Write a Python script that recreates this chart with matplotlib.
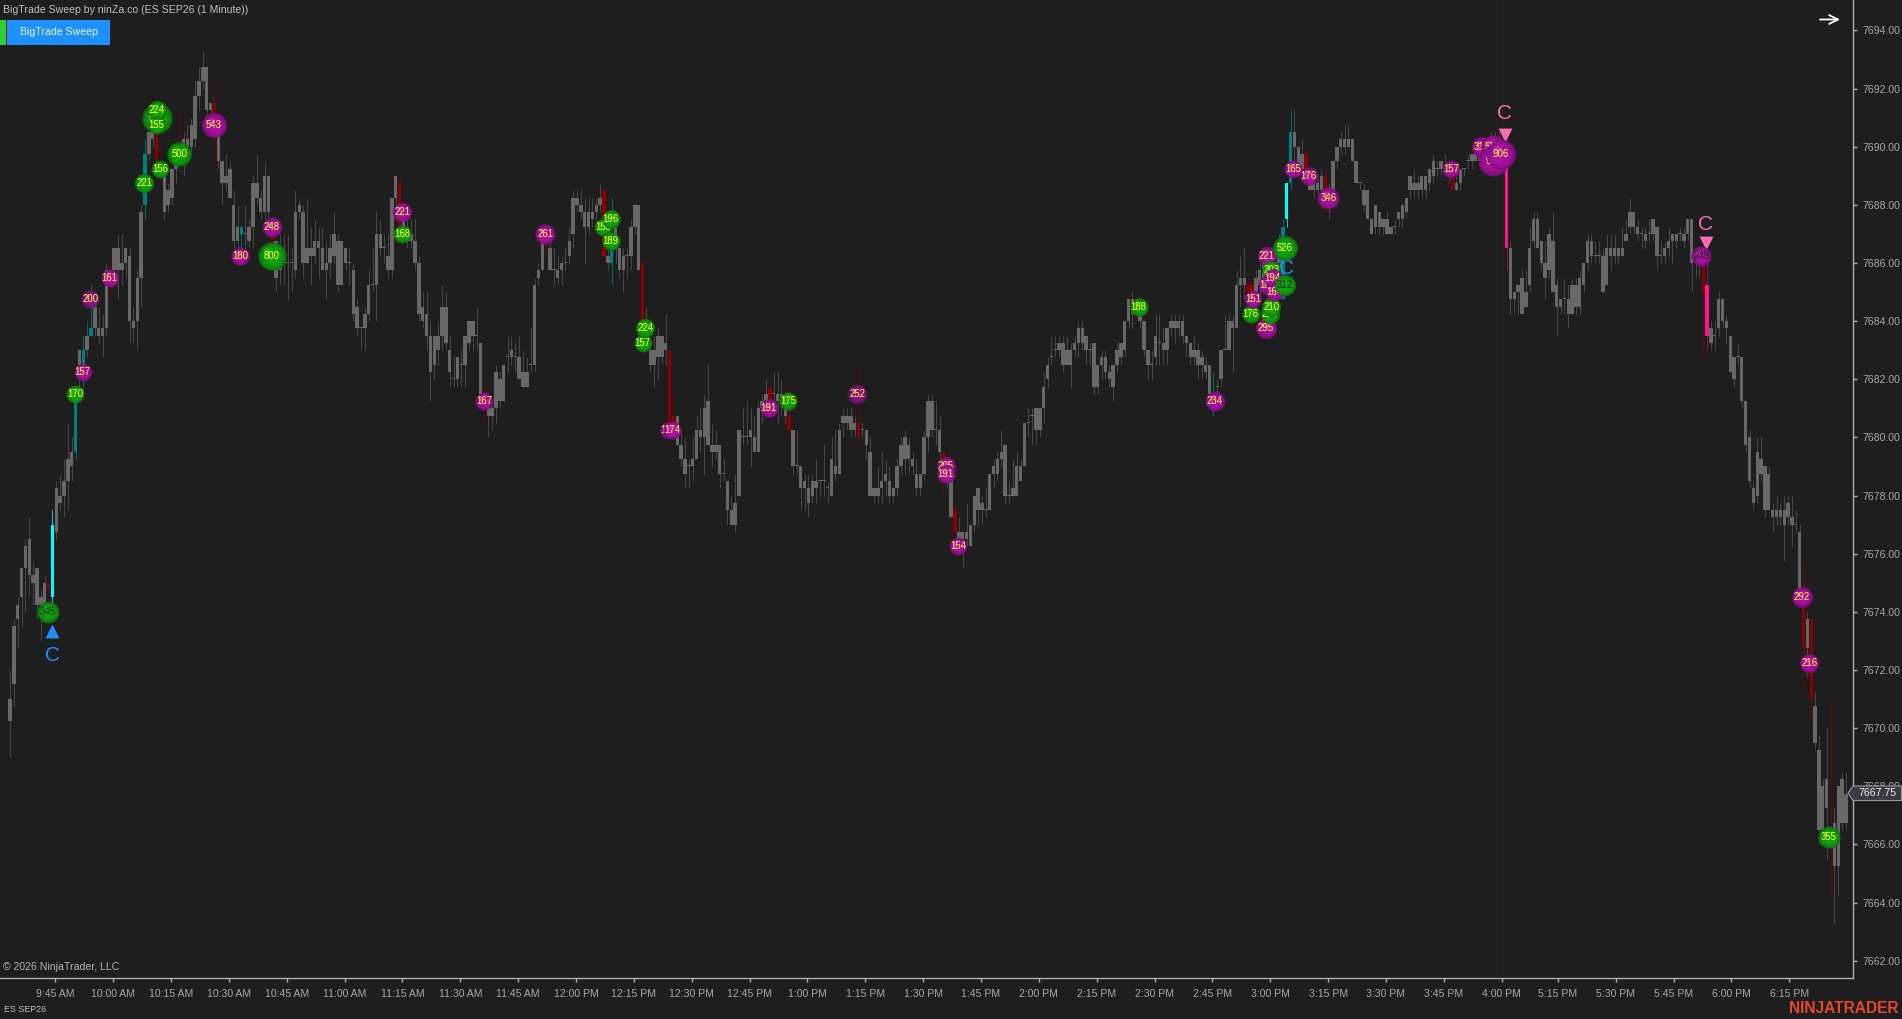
import numpy as np
import matplotlib
matplotlib.use("Agg")
import matplotlib.pyplot as plt
from matplotlib.patches import Polygon, Rectangle

plt.rcParams['font.family'] = ['Liberation Sans', 'DejaVu Sans']

# prices are stored minus this base
base_price = 7600

# candle bodies and wicks, one row per 10 bars
body_top = [
    71,73.5,74.25,75.5,76.25,76.5,75.25,75.5,74.5,75,
    75,77,78.25,78,78.5,79.25,79.5,81.5,83,83,
    83.5,83.75,84.5,83.75,83.75,85.75,85.75,86.5,86.5,86,
    86.5,86.25,84,85.5,87.75,89.75,90.5,90.5,90.5,89.25,
    89.25,88.5,89.25,89.75,90,90.25,90.25,90.75,91.75,92.25,
    92.75,92.75,91.5,91.5,90.5,89.5,89,89.25,88,87.25,
    87.25,87,87.25,88.75,88.75,88.25,89,89,87,86.75,
    86,86,86,86,87.75,88,87.75,86.5,86.5,86.75,
    86.75,86.5,86,86.5,87,86.75,86.75,86.5,86,85.75,
    84.5,83.75,84.25,85.25,85.25,87,87,86.5,86.25,88.25,
    89,88.75,87.5,87.25,87,86.75,86,84.5,84.25,83.5,
    83.5,83.5,84.5,84.5,83,82,82.75,82.5,83.5,84,
    84,83.5,83.25,81.5,81,81,82.25,82,82.5,82.75,
    83,82.75,82.75,82.25,82.25,82.5,85.25,85.75,87,87,
    86.5,85.75,85.75,86,86,86.75,88.25,88.25,88,87.75,
    87.75,87.75,88,88.25,88.5,86.25,87,87.25,86.5,86.25,
    86.25,87.25,88,88,86,84,83,83,83.5,83.5,
    83.25,83,80.75,80.75,79.75,79.25,79,79.25,80.25,80.25,
    81,81.25,79.75,79.75,79.75,78.75,78.5,77.5,77.75,80.25,
    80,80,80.25,80,81,81.25,81.5,81.75,81.5,81.5,
    81.5,81.25,80.75,80.25,79,79,78.5,78.25,78.5,78.5,
    78.5,78.5,78.25,79.25,79,80.25,80.75,80.75,80.75,80.5,
    80.5,80.25,80.25,79.5,78.25,78.25,78.5,78.75,78.5,78.25,
    79,79.75,80,79.75,79.25,78.75,78.75,80,81.25,81.25,
    80.25,80.25,79.5,79,78.75,77.5,76.75,76.75,76.75,77,
    78,78.25,77.75,77.5,78.75,79,79.25,79.5,79.75,78,
    78.25,79,79,80.5,80.5,80.75,81,81,81.75,82.5,
    82.75,83,83.25,83.25,83,83,83.25,83.75,83.75,83.5,
    83,83.25,82.5,82.75,82.75,82.25,82.5,83,83.25,84,
    84.75,84.75,84.75,84.25,84,83,82.5,83.5,83.25,83.25,
    83.75,84,84,84,84,83.5,83.25,83,83,82.75,
    82.5,82.5,81.5,81.75,83,83,84,84,85.25,85.5,
    85.5,85.25,85.25,85.5,85.75,86,86,86.25,86,86.75,
    87.25,88.75,90.5,90.5,90,89.75,89.75,89.25,89,88.75,
    89,89,88.5,89.5,90,90.25,90.25,90.25,90.25,89.5,
    88.75,88.5,88.5,87.5,88,87.75,87.5,87.5,87.25,87.25,
    87.75,88,88.25,89,88.75,88.75,89,89,89.25,89.5,
    89.25,89.5,89.25,89.25,89,88.75,89.25,89.25,89.5,89.75,
    89.75,89.75,90,90,90.25,90.25,90.25,90,90,86.5,
    85,85.25,85.5,85,86.5,87.5,87.5,86.75,86,87,
    86.75,85.25,84.75,84.75,84.75,85.25,85.25,85.5,86,86.75,
    86.75,86.25,86.25,86.25,86.5,86.5,86.5,86.5,86.5,87,
    87.75,87.75,87.25,87,87,87,87.5,87.25,86.25,86.5,
    86.75,87,87,87,87,87.5,87.5,86,86,86,
    85.25,83.75,83.5,84.75,84.75,84,83.5,82.75,82.75,82.75,
    81.25,80,78.25,79.5,79.25,79,78.75,77.5,77.5,77.5,
    77.5,77.75,77.25,77,76.75,74.75,73.75,73.75,70.75,69.25,
    68,68.25,66.25,66.75,68,68.25,67.75,
]
body_bot = [
    70.25,71.5,73.75,74.5,75.5,75.25,75,74.25,74.25,74.25,
    74.75,74.5,76.75,77.75,78,78.5,79,79.5,82.5,82.5,
    83,83.5,83.75,83.5,83.5,83.75,85.25,85.75,85.75,85.75,
    86,84,83.75,84,85.5,88,89.75,90.25,89.5,89,
    87.75,88,88.25,89.25,89.75,89.75,90,90,90.25,91.75,
    92.25,91.25,91.25,91,89.5,88.75,88.75,88.25,86.75,86.75,
    87,87,86.75,87.25,88.25,87.75,87.75,87.75,86.75,85.5,
    85.75,86,86,86,85.75,87.75,86,86,86.25,86.25,
    86.5,85.75,85.75,86,86.25,85.25,85.25,86,86,84.25,
    83.75,83.75,83.75,84.25,85.25,85.25,86.5,86.5,85.75,85.75,
    88.25,87.25,87,86.75,86.75,86,84.25,84,83.5,82.25,
    82.5,83,83.5,83.25,82.25,82,82,82.5,82.5,83.25,
    83.5,83.5,81.5,81,80.75,80.75,81,81.25,81.25,82.75,
    82.75,82.75,82,81.75,81.75,82.5,82.5,85.5,85.75,86.75,
    85.75,85.75,85.5,85.75,86,86.25,87,88,87.75,87.25,
    87.25,87.5,87.75,88,86.25,86,86,86.5,85.75,85.75,
    86.25,86.25,87.25,85.75,84,83.75,82.5,82.5,82.75,82.75,
    83,80.5,80.25,79.75,79.25,78.75,79,79,79.25,80,
    80,79.75,79.5,79.5,78.75,78.75,77.5,77,77,78,
    80,80,80,79.5,79.5,81,81.25,81.25,81.5,81.25,
    81.25,80.75,80.25,79,79,78.25,78.25,77.75,78,78.25,
    78.5,78.5,78.25,78,78.75,78.75,80.5,80.5,80.25,80.25,
    80,80.25,79.75,78,78,78,78.25,78.5,78,78,
    78.25,79,79.25,79.25,79,78.25,78.25,78.75,80,80.25,
    80.25,79.5,79.25,78.5,77.25,76.75,76.5,76.5,76.5,76.25,
    77,77.5,77.5,77.5,77.5,78.75,78.75,79.25,78,78,
    78,78,78.5,79,80.5,80.75,80.25,80.25,81,82,
    82.75,83,83,82.5,82.5,82.5,83,83.25,83.25,83,
    83,81.75,81.75,82.5,82.25,82,81.75,82.5,82.75,83,
    84,84.25,84.5,84,83,82.5,82.5,82.75,83.25,83,
    83,83.75,83.75,83.75,83.5,83.25,82.75,82.75,82.5,82.5,
    82.25,81.5,81.25,81.75,82,83,83,83.75,83.75,85.25,
    85.25,85,85,85,85.25,85.5,85.5,85.75,85.5,86,
    84.75,87.5,88.75,90,89.25,89.25,89.25,88.5,88.5,88.5,
    88.5,88.5,88,88.5,89.5,90,90,90,89.5,88.75,
    88.75,88,87.5,87,87.25,87.25,87.25,87,87,87.25,
    87.5,87.5,87.75,88.5,88.5,88.5,88.5,88.5,88.75,89,
    89.25,89.25,89.25,89,88.5,88.5,88.75,89.25,89.5,89.5,
    89.5,89.5,89.75,89.75,89.75,90,89.75,89.5,86.5,84.75,
    84.75,85,84.25,84.5,85.25,86.75,86.5,86,85.5,85.75,
    85,84.5,84.5,84.75,84.25,84.25,84.5,84.5,85.25,86,
    86.25,86.25,86.25,85,85.25,86.25,86.25,86.25,86.25,86.75,
    87.25,87.25,87,87,86.75,87,87,86.25,86.25,86.25,
    86.5,86.75,86.75,87,86.75,87,86,86,86,85,
    83.5,83.25,83.5,83.75,84,83.75,82.25,82,82.75,81.25,
    79.75,78.5,77.75,78,78.75,77.5,77.5,77.25,77.25,77.25,
    77,77.25,77,77,74.75,72.75,72.75,71,69.5,66.5,
    66.5,67.25,66,65.25,65.25,66.75,66.75,
]
wick_high = [
    72,73.75,74.5,75.5,76.5,77.25,75.75,75.5,74.75,75.25,
    75.5,77.5,78.5,78.75,79.25,80.5,80,81.75,83,83.5,
    84,85.25,84.75,84.5,84.25,86,86.25,86.5,87,87,
    86.5,86.5,84.5,85.75,88,90.25,90.5,90.75,91.5,90,
    89.25,88.75,89.25,90,91.25,90.5,90.75,91,92.25,92.75,
    93.25,92.75,91.5,92.25,90.75,89.5,89.75,89.5,88.5,88,
    87.25,88,87.5,89,89.75,88.5,89.5,89,87.5,86.75,
    87,87,87,86.5,88.5,88.25,88,88.25,87.25,87.5,
    87.25,87.25,86.75,87,87.75,87,86.75,86.5,86.5,86,
    84.75,83.75,84.5,85.75,86.5,87.75,87.5,87,87,88.25,
    89,89,87.75,87.5,87.5,87.5,86.25,85,85,84,
    83.5,84,85.25,85,83.5,82.75,82.75,83,83.5,84,
    84,84.5,83.25,82,81.25,81.25,82.5,82.25,82.5,83.5,
    83.5,83.25,83.5,83,82.75,83.75,85.5,86,87.25,87.25,
    87.25,86.5,86.25,86.25,86.5,87.25,88.5,88.5,88.5,88.25,
    88.25,88.25,88.25,88.75,88.5,86.5,88.25,87.5,86.5,86.5,
    86.5,87.5,88,88,86,84.5,83.25,83.5,83.75,83.5,
    84.25,83,81.5,80.75,80.25,80,79.25,80,80.75,81,
    81.5,82.5,80.5,80.25,79.75,79.25,78.5,78,78.75,80.25,
    81,81.25,81,80.75,81.25,81.5,82,81.75,82.25,82.25,
    82,81.5,81.75,80.25,80.25,79,78.75,78.75,78.75,79.25,
    78.5,79.75,78.5,80,80.25,80.5,81,81,81,80.75,
    82.5,80.5,80.25,80,78.25,79,79.5,79.25,79,78.25,
    79.25,80,80.25,80,79.5,79.25,78.75,80.25,81.5,81.5,
    81.25,80.75,79.5,79.25,78.75,77.75,77.25,76.75,77.75,77,
    78,78.25,78,78.25,78.75,79.25,79.5,80.25,79.75,78.5,
    79.25,79.5,79.25,80.5,81,81,81,81,82.25,82.75,
    83.5,83.5,83.5,83.5,83.5,83.25,83.5,84,84,83.5,
    83.25,83.25,82.5,83,83,82.5,82.5,83.25,83.25,84,
    84.75,85,85,84.5,84,83,83,84.25,84.25,83.75,
    83.75,84.25,84.25,84.25,84.25,83.5,83.25,83.5,83.25,83,
    82.75,82.5,82.25,82,83,84.25,84.25,84.25,85.75,86.25,
    86.5,85.5,85.5,85.75,86,86.25,86.5,86.5,86.75,87,
    87.5,88.75,91.25,91.25,90,90.25,90,89.25,89.25,89,
    89.25,89.25,88.75,89.5,90,90.5,90.75,90.75,90.25,89.5,
    88.75,88.75,88.5,87.5,88,87.75,87.5,87.75,87.25,87.5,
    87.75,88,88.25,89,89.25,89,89,89,89.25,89.75,
    89.5,89.5,89.75,89.25,89.25,89,89.25,89.25,89.75,89.75,
    90,90,90.25,90.25,90.5,90.5,90.5,90.25,90.25,86.75,
    85,85.25,85.75,85.75,87.25,87.75,87.75,86.75,86.75,87.25,
    87.75,85.5,84.75,85.5,85.25,85.5,85.5,85.75,86,87,
    87,86.75,86.75,86.5,87,87,87,86.5,87.25,87.5,
    88.25,87.75,87.5,87.25,87.25,87.5,87.5,87.25,86.75,86.75,
    87.25,87,87,87.25,87.25,87.5,87.5,86.25,86.25,86.25,
    86.5,84,84,85,84.75,84.25,83.5,82.75,83.25,82.75,
    81.25,80.25,78.5,80,80,79,79,77.75,78,77.75,
    78,78,78,77.5,77,75.75,74,73.75,71.25,69.75,
    68.25,70,71,67.25,68,68.5,68.5,
]
wick_low = [
    69,70.75,72.75,73.5,74,74.5,74.25,73.75,73,73.75,
    74,74.25,76.5,77.5,77.25,77.5,78.5,79.25,81.75,81.5,
    82.75,83.5,83.5,83.25,82.75,83.5,84.75,85.5,84.75,85.25,
    85.5,83.25,83.25,83,84.5,87.5,89.5,90,89.25,88.75,
    87.5,87.75,88,88.75,89.5,89,89.75,89.75,90,91.25,
    92,91,90.75,89.25,89.25,88,88.5,88.25,86.5,86.5,
    86.5,86.5,86.5,86.5,88,87.5,87.5,87.5,86.5,85,
    85.25,85.25,84.75,85,85.5,87.5,85.5,86,85.25,86,
    85.5,85.75,84.75,85.5,86,85,85.25,85.75,85.25,84,
    83.5,83,83,84,85,84,86.25,86,85.5,85.5,
    87.5,87,86.75,86.5,86.5,85.75,84,83.75,83,81.25,
    82,82.5,83,83,81.75,81.75,81.75,81.75,81.75,83,
    83,83,81.25,80.5,80,80.25,80.5,81,81.25,82.25,
    82.5,82.25,82,81.75,81.75,82.25,82.25,85.25,85.75,86.25,
    85.75,85.25,85.25,85.25,85.75,86,86.5,87.75,87.5,86,
    87,87.25,87.25,87.75,86,85.75,85.25,86,85.5,85,
    85.5,85.75,87,85.75,83.75,83.5,82.25,81.75,82,82.5,
    82.5,80.25,80,79.75,79,78.25,78.25,78.5,79.25,79.5,
    78.75,79.75,79,79.25,78.25,78.5,77,77,76.75,78,
    79.75,79.75,79,79.5,79.5,80.5,80.75,81,81,80.5,
    80.75,80.5,80,78.75,78.75,77.5,77.5,77.25,77.75,77.75,
    78,78,77.75,78,78.5,78.75,80,80.25,80,80,
    79.75,80,79.25,78,77.75,77.75,77.75,78,77.75,77.75,
    78,78.75,78.75,78.75,78.75,78,78,78.5,79.5,80,
    79.75,79.25,78,78.25,77.25,76.5,76.25,75.5,76.25,76.25,
    76.75,77,77,77.25,77.5,78.25,78.5,79,77.75,77.75,
    78,78,78.5,79,80,79.75,79.75,80,80.5,81.75,
    82.5,82.75,82.75,82.25,82.5,81.75,82.75,82.75,83,82.5,
    82.5,81.5,81.5,82,82,81.75,81.25,82.25,82.5,82.75,
    83.75,83.75,84,83.75,82.75,82,82,82.5,82.5,82.5,
    82.5,83.5,83.25,83.5,83.25,82.75,82.5,82.5,82,82,
    82,81.25,80.75,81.25,81.75,83,83,82.25,83.75,84.5,
    84.75,83.75,83.75,84.5,84.75,85.25,85,85.25,85.25,85.5,
    84.75,87.25,88.5,89.25,89,89,89,88.5,88.25,88.25,
    88.5,88.25,87.5,88.25,89.25,89.75,89.75,90,89.5,88.75,
    88.5,87.75,87.5,87,87,87,87,87,87,87,
    87.25,87.25,87.5,88.25,88.25,88.25,88.25,88.25,88.5,88.75,
    89,89,89,88.75,88.5,88.5,88.5,89,89.25,89.25,
    89.5,89.5,89.5,89.5,89.5,89.75,89.5,89.25,85.75,84.25,
    84.25,84.25,84.25,84.5,85,86.5,86.5,85.75,84.75,85.5,
    85,83.5,84.25,84.25,83.75,84.25,84.25,84.25,85,85.75,
    86,86,86,85,85.25,85.75,86,86,86.25,86.75,
    87,87,86.75,86.5,86.5,86.75,86.75,85.75,86,86,
    86.25,86,86.5,86.75,86.5,86.75,85,85.5,85.5,82.75,
    83,83,83,83.5,83.75,83.25,82.25,81.75,82.5,81,
    79.5,78.25,77.5,77.75,78.5,77.25,77.5,76.75,77,77,
    75.75,77,76.25,76.75,74.5,71.25,71.75,70.25,69.25,66,
    66,65.5,64.25,63.25,64.25,66.5,66.5,
]

# bars the indicator paints
red_bars = [10, 26, 38, 39, 44, 53, 68, 101, 123, 139, 154, 164, 171, 172, 197, 202, 220,
            242, 245, 292, 321, 322, 336, 341, 374, 439, 465, 467, 472]
teal_bars = [17, 19, 21, 35, 60, 156, 312, 330, 332]
cyan_bars = [11, 331]
pink_bars = [388, 440]

# big trade bubbles
bubble_bar = [9.85, 16.85, 18.85, 20.8, 25.85, 34.8, 38, 38, 38, 38.9, 43.9, 52.8, 59.7, 67.8, 67.8,
              101.7, 101.7, 122.9, 138.8, 153.8, 155.7, 155.7, 164, 164.7, 170.7, 171.7, 196.7, 201.7,
              219.7, 242.6, 242.6, 245.8, 292.6, 312.4, 321.7, 322.4, 325.6, 326.7, 327, 326, 325.9,
              327, 327.4, 327.7, 330.6, 330.6, 332.7, 336.7, 341.8, 373.7, 381.6, 384.4, 384.6, 386.6,
              438.5, 464.5, 466.5, 471.5]
bubble_price = [74, 81.5, 82.25, 84.75, 85.5, 88.75, 91, 91.25, 90.75, 89.25, 89.75, 90.75, 86.25, 87.25, 86.25,
                87.75, 87, 81.25, 87, 87.25, 87.5, 86.75, 83.25, 83.75, 80.25, 80.25, 81, 81.25,
                81.5, 79, 78.75, 76.25, 84.5, 81.25, 84.25, 84.75, 83.75, 84.25, 84.5, 85.25, 86.25,
                85.75, 85.5, 85, 86.5, 85.25, 89.25, 89, 88.25, 89.25, 90, 90, 89.5, 89.75,
                86.25, 74.5, 72.25, 66.25]
bubble_vol = [345, 170, 157, 200, 161, 221, 941, 224, 155, 156, 500, 543, 180, 248, 800,
              221, 168, 167, 261, 153, 196, 189, 157, 224, 117, 174, 191, 175,
              252, 205, 191, 154, 188, 234, 176, 151, 295, 224, 210, 188, 221,
              203, 194, 164, 526, 312, 165, 176, 346, 157, 313, 512, 932, 906,
              249, 292, 216, 355]
bubble_side = ['B', 'B', 'S', 'S', 'S', 'B', 'B', 'B', 'B', 'B', 'B', 'S', 'S', 'S', 'B',
               'S', 'B', 'S', 'S', 'B', 'B', 'B', 'B', 'B', 'S', 'S', 'S', 'B',
               'S', 'S', 'S', 'S', 'B', 'S', 'B', 'S', 'S', 'B', 'B', 'S', 'S',
               'B', 'S', 'S', 'B', 'B', 'S', 'S', 'S', 'S', 'S', 'S', 'S', 'S',
               'S', 'S', 'S', 'B']
dark_labels = [345, 312, 249]
faded_bubbles = [200, 252]

# reversal markers (C)
up_bar, up_price, up_c_price = [11, 331], [73.35, 86.7], [72.5, 85.8]
down_bar, down_price, down_c_price = [387.6, 439.6], [90.4, 86.7], [91.15, 87.32]

last_price = 7667.75
y_ticks = list(range(7662, 7696, 2))
x_tick_bars = [11.75 + 15 * n for n in range(26)] + [401.3, 416.3, 431.3, 446.3, 461.3]
x_tick_labels = ['9:45 AM', '10:00 AM', '10:15 AM', '10:30 AM', '10:45 AM', '11:00 AM', '11:15 AM', '11:30 AM',
                 '11:45 AM', '12:00 PM', '12:15 PM', '12:30 PM', '12:45 PM', '1:00 PM', '1:15 PM', '1:30 PM',
                 '1:45 PM', '2:00 PM', '2:15 PM', '2:30 PM', '2:45 PM', '3:00 PM', '3:15 PM', '3:30 PM',
                 '3:45 PM', '4:00 PM', '5:15 PM', '5:30 PM', '5:45 PM', '6:00 PM', '6:15 PM']

bg = '#1e1e1e'
axis_col = '#b0b0b0'
label_col = '#a8a8a8'
bar_px = 3.857
price_px = 29.07

fig = plt.figure(figsize=(19.02, 10.19), dpi=100, facecolor=bg)
ax = fig.add_axes([0, 41 / 1019, 1852.7 / 1902, 978 / 1019], facecolor=bg)

top = np.array(body_top) + base_price
bot = np.array(body_bot) + base_price
high = np.array(wick_high) + base_price
low = np.array(wick_low) + base_price
bars = np.arange(len(top))

body_colors = ['#686868'] * len(top)
wick_colors = ['#474747'] * len(top)
for ids, body, wick in [(red_bars, '#8b0000', '#6a0505'), (teal_bars, '#008080', '#006b6b'),
                        (cyan_bars, '#00ffff', '#00c8c8'), (pink_bars, '#ff1493', '#7a1a4a')]:
    for i in ids:
        body_colors[i] = body
        wick_colors[i] = wick

ax.axvline(x_tick_bars[25], color='#272727', lw=0.8, zorder=1)
ax.vlines(bars, low, high, colors=wick_colors, lw=0.75, zorder=2)
# a flat bar still shows as one pixel
heights = np.maximum(top - bot, 1.0 / price_px)
ax.bar(bars, heights, bottom=bot, width=3.4 / bar_px, color=body_colors, linewidth=0, zorder=3)

ax.scatter(up_bar, np.array(up_price) + base_price, marker='^', s=100, color='#1e90ff', linewidths=0, zorder=4)
ax.scatter(down_bar, np.array(down_price) + base_price, marker='v', s=100, color='#ff69b4', linewidths=0, zorder=4)
for b, p in zip(up_bar, up_c_price):
    ax.text(b, p + base_price, 'C', color='#1e90ff', fontsize=15, ha='center', va='center', zorder=4)
for b, p in zip(down_bar, down_c_price):
    ax.text(b, p + base_price, 'C', color='#ff69b4', fontsize=15, ha='center', va='center', zorder=4)

palette = {'B': ('#0c700c', '#12ad12', '#4ad84a'), 'S': ('#741074', '#b80eae', '#e468dc')}
for n, (b, p, vol, side) in enumerate(zip(bubble_bar, bubble_price, bubble_vol, bubble_side)):
    z = 5 + n * 0.1
    p = p + base_price
    r = 4.6 + 0.343 * np.sqrt(vol)
    edge, mid, shine = palette[side]
    fade = 0.6 if vol in faded_bubbles else 1.0
    ax.scatter([b], [p], s=(2 * r * 0.72) ** 2, color=edge, alpha=0.88 * fade, linewidths=0, zorder=z)
    for f in (0.9, 0.75, 0.6, 0.42):
        ax.scatter([b], [p], s=(2 * r * f * 0.72) ** 2, color=mid, alpha=0.4 * fade, linewidths=0, zorder=z)
    ax.scatter([b - 0.3 * r / bar_px], [p + 0.3 * r / price_px], s=(r * 0.5 * 0.72) ** 2, color=shine,
               alpha=0.3, linewidths=0, zorder=z)
    text_col = '#0d2a0d' if vol in dark_labels else '#ffff33'
    ax.text(b, p, str(vol), color=text_col, fontsize=6.9, ha='center', va='center', zorder=z + 0.05)

ax.set_xlim(-10 / bar_px, (1852.7 - 10) / bar_px)
ax.set_ylim(7690 - (978 - 146.7) / price_px, 7690 + 146.7 / price_px)
ax.yaxis.tick_right()
ax.set_yticks(y_ticks)
ax.set_yticklabels(['%.2f' % v for v in y_ticks])
ax.set_xticks(x_tick_bars)
ax.set_xticklabels(x_tick_labels)
ax.tick_params(axis='both', colors=label_col, labelsize=7.6, length=3, width=1, color=axis_col)
ax.tick_params(axis='y', pad=4)
ax.tick_params(axis='x', pad=5)
for side in ['left', 'top']:
    ax.spines[side].set_visible(False)
for side in ['right', 'bottom']:
    ax.spines[side].set_color(axis_col)
    ax.spines[side].set_linewidth(1)

# window furniture, in pixel coordinates
ov = fig.add_axes([0, 0, 1, 1], facecolor='none', zorder=10)
ov.set_xlim(0, 1902)
ov.set_ylim(1019, 0)
ov.axis('off')
ov.text(3, 9.5, 'BigTrade Sweep by ninZa.co (ES SEP26 (1 Minute))', color='#c0c0c0', fontsize=7.6, va='center')
ov.add_patch(Rectangle((0, 19.5), 6, 25, color='#32cd32', lw=0))
ov.add_patch(Rectangle((7, 19.5), 102.5, 25, color='#1e90ff', lw=0))
ov.text(59, 31.5, 'BigTrade Sweep', color='#e8f2ff', fontsize=7.6, ha='center', va='center')
ov.annotate('', xy=(1840, 19.5), xytext=(1820, 19.5),
            arrowprops=dict(arrowstyle='->', color='white', lw=1.3, mutation_scale=16, shrinkA=0, shrinkB=0))
ov.text(3, 967.5, '\u00a9 2026 NinjaTrader, LLC', color='#b4b4b4', fontsize=7.6, va='center')
ov.text(4, 1009.5, 'ES SEP26', color='#c0c0c0', fontsize=6.4, va='center')
ov.text(1899, 1008.5, 'NINJATRADER', color='#e8452c', fontsize=11.2, fontweight='bold', ha='right', va='center')
ov.add_patch(Polygon([(1848, 793), (1853, 786), (1901.5, 786), (1901.5, 800.5), (1853, 800.5)],
                     closed=True, facecolor='#3a3a44', edgecolor='#9a9a9a', lw=0.8))
ov.text(1858, 793.5, '%.2f' % last_price, color='#f0f0f0', fontsize=7.6, va='center')

fig.savefig('out.png', dpi=100, facecolor=bg)
